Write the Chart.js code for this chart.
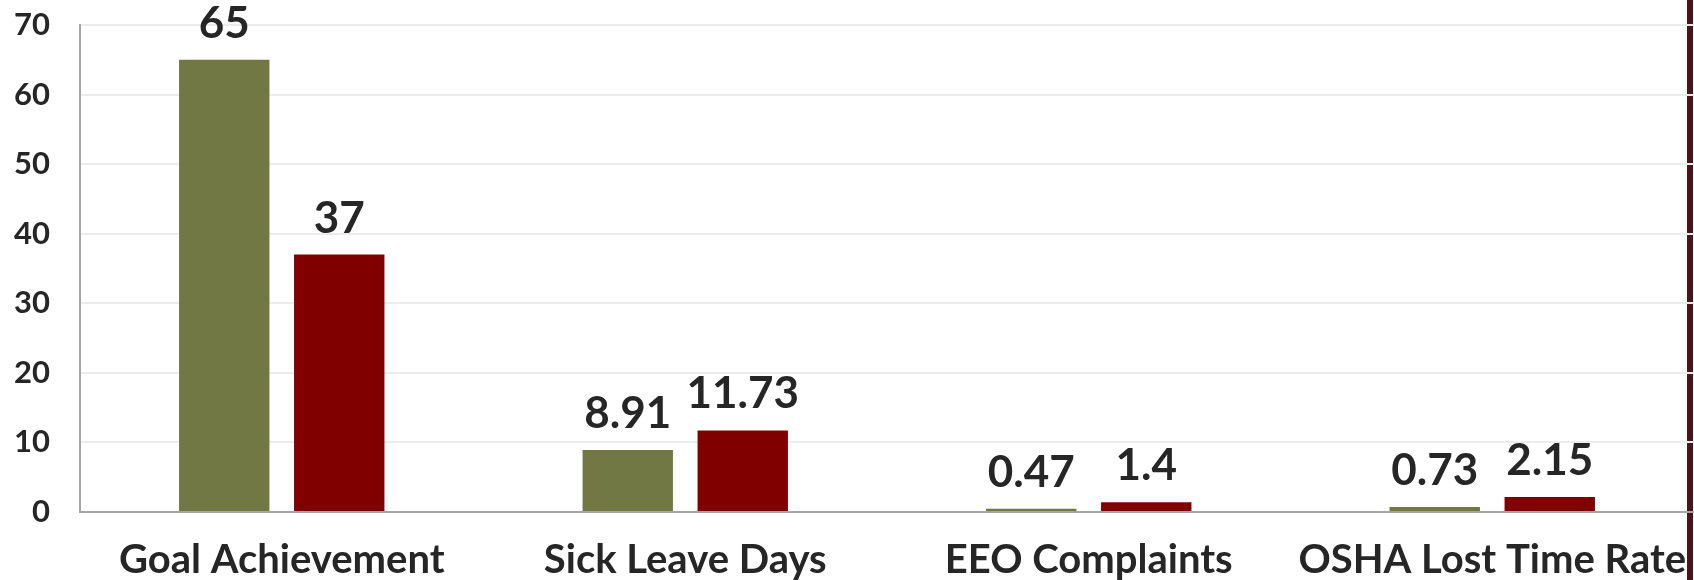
<!DOCTYPE html>
<html>
<head>
<meta charset="utf-8">
<script src="https://cdn.jsdelivr.net/npm/chart.js@4/dist/chart.umd.min.js"></script>
<style>
    html, body { margin: 0; padding: 0; background: #ffffff; }
    #wrap { width: 1694px; height: 580px; position: relative; }
</style>
</head>
<body>
<div id="wrap"><canvas id="chartMeasures"></canvas></div>
<script>
// CHART DATA
var categories = ["Goal Achievement", "Sick Leave Days", "EEO Complaints", "OSHA Lost Time Rate"];
var seriesOne = [65, 8.91, 0.47, 0.73];
var seriesTwo = [37, 11.73, 1.4, 2.15];
var yTicks = [0, 10, 20, 30, 40, 50, 60, 70];

var fontFamily = "Lato, 'Open Sans', sans-serif";
var textColor = "#262626";

// dark strip down the right edge, drawn under the grid
var edgeStrip = {
    id: 'edgeStrip',
    beforeDraw: function(chart) {
        var ctx = chart.ctx;
        ctx.save();
        ctx.fillStyle = "#4b161b";
        ctx.fillRect(1687, 0, 6, chart.height);
        ctx.restore();
    }
};

// value labels above each bar
var valueLabels = {
    id: 'valueLabels',
    afterDatasetsDraw: function(chart) {
        var ctx = chart.ctx;
        ctx.save();
        ctx.font = "bold 44px " + fontFamily;
        ctx.fillStyle = textColor;
        ctx.textAlign = "center";
        ctx.textBaseline = "alphabetic";
        chart.data.datasets.forEach(function(ds, i) {
            var meta = chart.getDatasetMeta(i);
            meta.data.forEach(function(bar, j) {
                ctx.fillText(String(ds.data[j]), bar.x, bar.y - 22);
            });
        });
        ctx.restore();
    }
};

var ctx = document.getElementById("chartMeasures").getContext('2d');
var measuresChart = new Chart(ctx, {
    type: 'bar',
    data: {
        labels: categories,
        datasets: [{
            label: "Series 1",
            data: seriesOne,
            backgroundColor: "#727843"
        }, {
            label: "Series 2",
            data: seriesTwo,
            backgroundColor: "#800000"
        }]
    },
    options: {
        responsive: true,
        maintainAspectRatio: false,
        animation: false,
        devicePixelRatio: 1,
        layout: {
            padding: { top: 25, right: 0, left: 0, bottom: 0 }
        },
        categoryPercentage: 0.57,
        barPercentage: 0.786,
        plugins: {
            legend: { display: false },
            tooltip: { enabled: false }
        },
        scales: {
            x: {
                grid: { display: false },
                border: { display: true, color: "#a6a6a6", width: 2 },
                ticks: {
                    color: textColor,
                    font: { family: fontFamily, size: 40, weight: 'bold' },
                    padding: 16,
                    maxRotation: 0,
                    autoSkip: false
                },
                afterFit: function(scale) {
                    scale.height = 68;
                    scale.paddingLeft = 0;
                    scale.paddingRight = 0;
                }
            },
            y: {
                min: 0,
                max: 70,
                afterBuildTicks: function(scale) {
                    scale.ticks = yTicks.map(function(v) { return { value: v }; });
                },
                grid: { color: "#ececec", lineWidth: 2, drawTicks: false },
                border: { display: true, color: "#a6a6a6", width: 2 },
                ticks: {
                    color: textColor,
                    font: { family: fontFamily, size: 31, weight: 'bold' },
                    padding: 30
                },
                afterFit: function(scale) {
                    scale.width = 80;
                    scale.paddingTop = 0;
                    scale.paddingBottom = 0;
                }
            }
        }
    },
    plugins: [edgeStrip, valueLabels]
});
</script>
</body>
</html>
